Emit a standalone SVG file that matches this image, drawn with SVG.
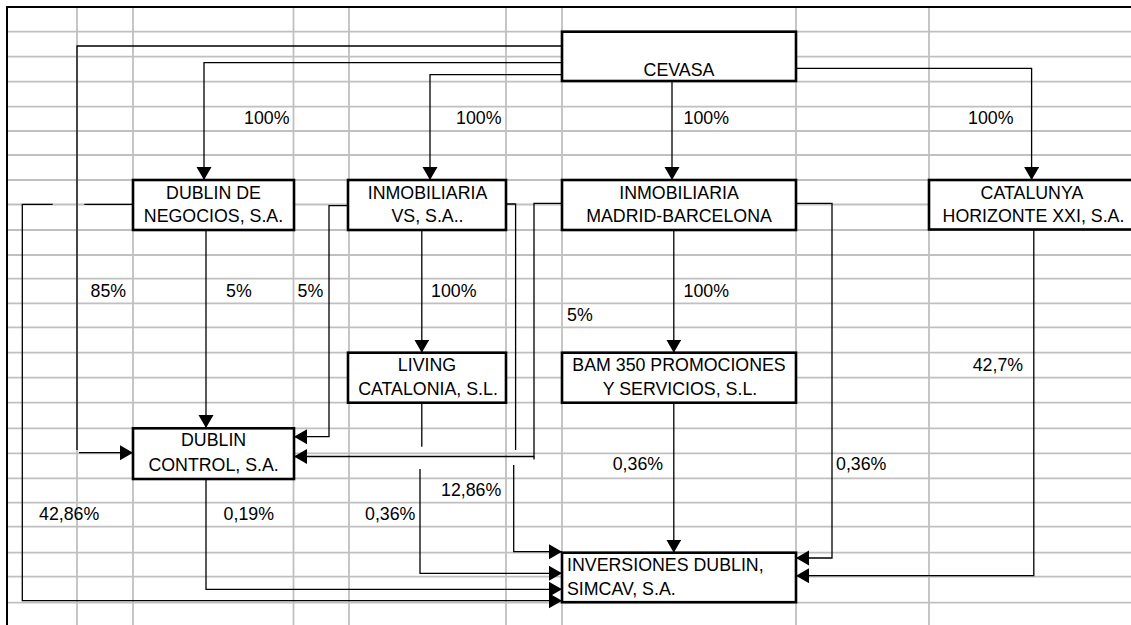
<svg xmlns="http://www.w3.org/2000/svg" width="1131" height="625" viewBox="0 0 1131 625">
<style>
.grid{stroke:#c0c0c0;stroke-width:1.8;fill:none}
.frame{stroke:#000;stroke-width:2;fill:none}
.box{fill:#fff;stroke:#000;stroke-width:2.6}
.c{fill:none;stroke:#000;stroke-width:1.3}
.a{marker-end:url(#arr)}
text{font-family:"Liberation Sans",Arial,sans-serif;font-size:17.8px;fill:#000}
.m{text-anchor:middle}
</style>
<defs>
<marker id="arr" markerUnits="userSpaceOnUse" markerWidth="14" markerHeight="16" refX="13" refY="7.5" orient="auto">
<path d="M0,0 L13,7.5 L0,15 z" fill="#000"/>
</marker>
</defs>
<rect x="0" y="0" width="1131" height="625" fill="#fff"/>
<g id="grid">
<path class="grid" d="M77,7V625M133,7V625M293.5,7V625M349,7V625M506,7V625M562,7V625M796,7V625M929,7V625"/>
<path class="grid" d="M7,31.7H1131M7,56.7H1131M7,81.7H1131M7,106.7H1131M7,131H1131M7,155H1131M7,180H1131M7,204.5H1131M7,230H1131M7,255H1131M7,278.7H1131M7,303.3H1131M7,327.3H1131M7,352.7H1131M7,377.7H1131M7,402.7H1131M7,428.3H1131M7,453.3H1131M7,478.3H1131M7,502.7H1131M7,526.7H1131M7,552.7H1131M7,576.7H1131M7,602.7H1131"/>
<path class="frame" d="M7,625V7H1131"/>
</g>
<g id="connectors">
<path class="c" d="M562,46H77V450"/>
<path class="c a" d="M79,452.7H133"/>
<path class="c a" d="M562,62.7H204V180"/>
<path class="c a" d="M562,74.7H430V180"/>
<path class="c a" d="M672,81V180"/>
<path class="c a" d="M794,68.3H1031.6V180"/>
<path class="c a" d="M206,230V428"/>
<path class="c" d="M133,204.3H84.3"/>
<path class="c a" d="M52.7,204.3H22.3V600.7H562"/>
<path class="c a" d="M348,205.7H329V436.7H294"/>
<path class="c a" d="M421.8,230V352.7"/>
<path class="c" d="M506,204H515.6V450"/>
<path class="c a" d="M513.7,465V551.7H562"/>
<path class="c" d="M421.8,403V446.7"/>
<path class="c a" d="M420,469V573.3H562"/>
<path class="c" d="M534,456.5V459.5"/>
<path class="c a" d="M562,203.3H534V456.5H294"/>
<path class="c a" d="M673.8,230V352.7"/>
<path class="c a" d="M796,203.3H832V558H796"/>
<path class="c a" d="M673.8,403V552.7"/>
<path class="c a" d="M1033.8,230V575.7H796"/>
<path class="c a" d="M206,479V589.3H562"/>
</g>
<g id="labels">
<text x="244" y="124">100%</text>
<text x="456" y="124">100%</text>
<text x="683.6" y="124">100%</text>
<text x="968" y="124">100%</text>
<text x="90.5" y="297">85%</text>
<text x="226" y="297">5%</text>
<text x="297.5" y="297">5%</text>
<text x="431" y="297">100%</text>
<text x="683.6" y="297">100%</text>
<text x="567" y="320.5">5%</text>
<text x="972.7" y="370.5">42,7%</text>
<text x="612.7" y="470">0,36%</text>
<text x="836" y="470">0,36%</text>
<text x="441" y="495.5">12,86%</text>
<text x="39" y="520">42,86%</text>
<text x="223.6" y="520">0,19%</text>
<text x="365" y="520">0,36%</text>
</g>
<g id="cevasa">
<rect class="box" x="562" y="31.7" width="234" height="49.3"/>
<text class="m" x="679" y="76">CEVASA</text>
</g>
<g id="dublin-negocios">
<rect class="box" x="133" y="180" width="161" height="50"/>
<text class="m" x="213.5" y="199">DUBLIN DE</text>
<text class="m" x="213.5" y="222">NEGOCIOS, S.A.</text>
</g>
<g id="inmobiliaria-vs">
<rect class="box" x="348" y="180" width="158" height="50"/>
<text class="m" x="427.5" y="199">INMOBILIARIA</text>
<text class="m" x="427.5" y="222">VS, S.A..</text>
</g>
<g id="inmobiliaria-madrid">
<rect class="box" x="562" y="180" width="234" height="50"/>
<text class="m" x="679" y="199">INMOBILIARIA</text>
<text class="m" x="679" y="222">MADRID-BARCELONA</text>
</g>
<g id="catalunya">
<rect class="box" x="929" y="180" width="215" height="49.5"/>
<text class="m" x="1032" y="198.5">CATALUNYA</text>
<text class="m" x="1033.5" y="221.5">HORIZONTE XXI, S.A.</text>
</g>
<g id="living">
<rect class="box" x="348" y="352.7" width="158" height="50"/>
<text class="m" x="427" y="371">LIVING</text>
<text class="m" x="428" y="395">CATALONIA, S.L.</text>
</g>
<g id="bam">
<rect class="box" x="562" y="352.7" width="234" height="50"/>
<text class="m" x="679" y="371">BAM 350 PROMOCIONES</text>
<text class="m" x="680" y="395">Y SERVICIOS, S.L.</text>
</g>
<g id="dublin-control">
<rect class="box" x="133" y="428.3" width="161" height="50.7"/>
<text class="m" x="213.6" y="446">DUBLIN</text>
<text class="m" x="213.6" y="471">CONTROL, S.A.</text>
</g>
<g id="inversiones">
<rect class="box" x="562" y="552.7" width="234" height="49.5"/>
<text x="567" y="571">INVERSIONES DUBLIN,</text>
<text x="567" y="595">SIMCAV, S.A.</text>
</g>
</svg>
